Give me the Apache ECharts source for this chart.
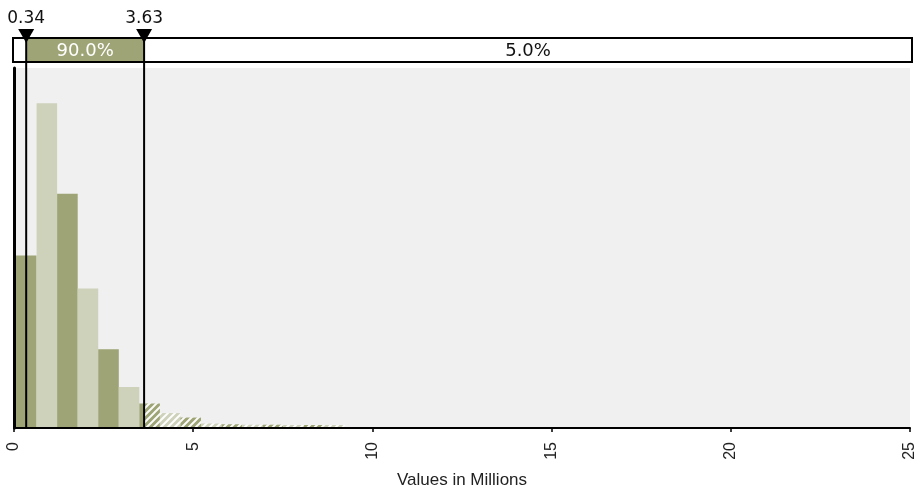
<!DOCTYPE html>
<html><head><meta charset="utf-8">
<script src="https://cdn.jsdelivr.net/npm/echarts@6/dist/echarts.min.js"></script>
<style>html,body{margin:0;padding:0;background:#fff}#c{width:923px;height:488px}</style>
</head><body><div id="c"></div>
<script>
// ---- data ----
const binEdges = [0.056,0.630,1.203,1.777,2.350,2.924,3.497,4.071,4.644,5.218,5.791,6.365,6.938,7.512,8.085,8.659,9.232];
const binValues = [16.2,30.5,22.0,13.1,7.4,3.85,2.3,1.4,0.98,0.42,0.35,0.31,0.31,0.28,0.28,0.28];
const xTickValues = [0,5,10,15,20,25];
const markers = [0.34, 3.63];
const markerLabels = ['0.34','3.63'];
const bandLabels = ['5.0%','90.0%','5.0%'];
const axisName = 'Values in Millions';

const DARK = '#9EA475';
const LIGHT = '#CFD2BB';
const BANDFONT = 'DejaVu Sans';
const AXFONT = 'Liberation Sans';

function makeHatch(base){
  const n = 7;
  const c = document.createElement('canvas'); c.width = n; c.height = n;
  const g = c.getContext('2d');
  g.fillStyle = base; g.fillRect(0,0,n,n);
  g.strokeStyle = 'rgba(255,255,255,0.95)'; g.lineWidth = 2;
  g.beginPath();
  g.moveTo(0,n); g.lineTo(n,0);
  g.moveTo(-2,2); g.lineTo(2,-2);
  g.moveTo(n-2,n+2); g.lineTo(n+2,n-2);
  g.stroke();
  return c;
}
const hatch = [makeHatch(DARK), makeHatch(LIGHT)];

const histData = binValues.map((v,i)=>[binEdges[i], binEdges[i+1], v, i]);

const chart = echarts.init(document.getElementById('c'), null, {renderer:'canvas'});
chart.setOption({
  animation:false,
  grid:[
    {left:14, right:13, top:68, bottom:60, show:true, backgroundColor:'#F0F0F0', borderWidth:0, containLabel:false, outerBoundsMode:'none'},
    {left:14, right:13, top:38, height:24, show:false, containLabel:false, outerBoundsMode:'none'}
  ],
  xAxis:[
    {type:'value', gridIndex:0, min:0, max:25, interval:5, z:10,
     axisLine:{show:true, onZero:false, lineStyle:{color:'#000', width:2}},
     axisTick:{show:true, length:4, lineStyle:{color:'#000', width:1.5}},
     axisLabel:{rotate:90, fontSize:16, fontFamily:AXFONT, color:'#222', margin:14,
       formatter:(v)=> xTickValues.includes(v) ? String(v) : ''},
     splitLine:{show:false},
     name:axisName, nameLocation:'middle', nameGap:44, nameMoveOverlap:false,
     nameTextStyle:{fontSize:17, fontFamily:AXFONT, color:'#222'}},
    {type:'value', gridIndex:1, min:0, max:25, show:false}
  ],
  yAxis:[
    {type:'value', gridIndex:0, min:0, max:33.8, z:10,
     axisLine:{show:true, lineStyle:{color:'#000', width:3}},
     axisTick:{show:false}, axisLabel:{show:false}, splitLine:{show:false}},
    {type:'value', gridIndex:1, min:0, max:1, show:false}
  ],
  series:[
    {type:'custom', xAxisIndex:0, yAxisIndex:0, data:histData, z:2,
     encode:{x:[0,1], y:2},
     renderItem:function(params, api){
       const s=api.value(0), e=api.value(1), v=api.value(2), idx=api.value(3);
       const p0=api.coord([s,0]), p1=api.coord([e,v]);
       const pc=api.coord([markers[1],0])[0];
       const x0=p0[0], x1=p1[0], yb=p0[1], yt=p1[1];
       const base = idx%2===0 ? DARK : LIGHT;
       const ch=[];
       if (x0<pc) ch.push({type:'rect', shape:{x:x0,y:yt,width:Math.min(x1,pc)-x0,height:yb-yt}, style:{fill:base}});
       if (x1>pc){ const xs=Math.max(x0,pc); ch.push({type:'rect', shape:{x:xs,y:yt,width:x1-xs,height:yb-yt}, style:{fill:{image:hatch[idx%2], repeat:'repeat'}}}); }
       return {type:'group', children:ch};
     }},
    {type:'custom', xAxisIndex:1, yAxisIndex:1, data:[[0,1]], z:3, clip:false,
     renderItem:function(params, api){
       const top=api.coord([0,1])[1], bot=api.coord([0,0])[1];
       const xl=api.coord([0,0])[0]-1, xr=api.coord([25,0])[0]+2;
       const xa=api.coord([markers[0],0])[0], xb=api.coord([markers[1],0])[0];
       const ch=[];
       ch.push({type:'rect', shape:{x:xl,y:top,width:xr-xl,height:bot-top}, style:{fill:'#fff', stroke:'#000', lineWidth:2}});
       ch.push({type:'rect', shape:{x:xa,y:top+1,width:xb-xa,height:bot-top-2}, style:{fill:DARK}});
       const mid=(top+bot)/2;
       const regions=[[xl,xa],[xa,xb],[xb,xr]];
       regions.forEach((r,i)=>{
         const w=r[1]-r[0];
         if (w>50) ch.push({type:'text', style:{x:(r[0]+r[1])/2, y:mid+1, text:bandLabels[i], fill:i===1?'#fff':'#111', font:'18px "'+BANDFONT+'"', align:'center', verticalAlign:'middle'}});
       });
       markers.forEach((m,i)=>{
         const x=api.coord([m,0])[0];
         ch.push({type:'line', shape:{x1:x,y1:top-1,x2:x,y2:bot+1}, style:{stroke:'#000', lineWidth:2}});
         ch.push({type:'polygon', shape:{points:[[x-8,top-9],[x+8,top-9],[x,top+5]]}, style:{fill:'#000'}});
         ch.push({type:'text', style:{x:x, y:top-19.5, text:markerLabels[i], fill:'#111', font:'17px "'+BANDFONT+'"', align:'center', verticalAlign:'middle'}});
       });
       return {type:'group', children:ch};
     }},
    {type:'custom', xAxisIndex:0, yAxisIndex:0, data:markers.map(m=>[m]), z:5, clip:false,
     encode:{x:0},
     renderItem:function(params, api){
       const x=api.coord([api.value(0),0])[0];
       const cs=params.coordSys;
       return {type:'line', shape:{x1:x,y1:cs.y-6,x2:x,y2:cs.y+cs.height}, style:{stroke:'#000', lineWidth:2}};
     }}
  ]
});
</script>
</body></html>
